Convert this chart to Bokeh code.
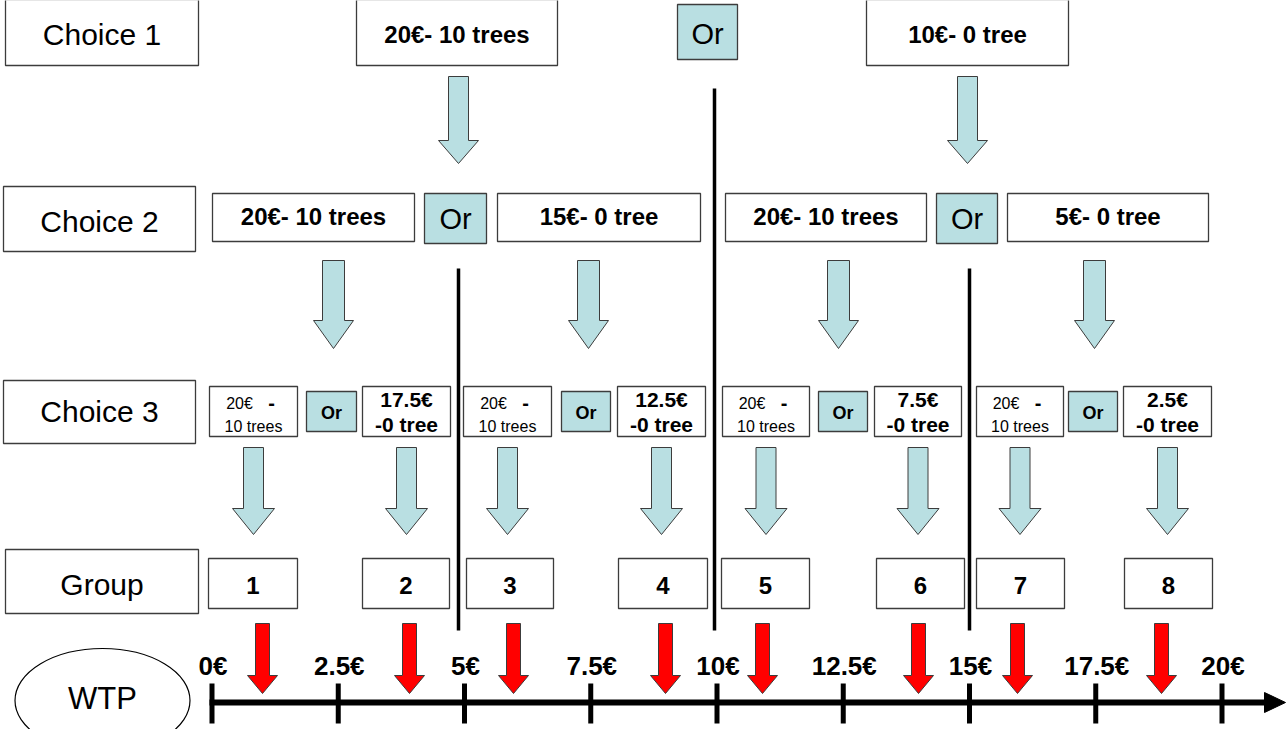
from bokeh.plotting import figure
from bokeh.models import Range1d
from bokeh.core.properties import value
from bokeh.embed import file_html
from bokeh.resources import INLINE

# ---------------- data (texts / values) ----------------
row_labels = ["Choice 1", "Choice 2", "Choice 3", "Group"]
choice1_options = ["20€- 10 trees", "10€- 0 tree"]
choice2_options = ["20€- 10 trees", "15€- 0 tree", "20€- 10 trees", "5€- 0 tree"]
choice3_a_price = ["20€", "20€", "20€", "20€"]
choice3_a_trees = ["10 trees", "10 trees", "10 trees", "10 trees"]
choice3_b_price = ["17.5€", "12.5€", "7.5€", "2.5€"]
choice3_b_trees = ["-0 tree", "-0 tree", "-0 tree", "-0 tree"]
or_label = "Or"
groups = ["1", "2", "3", "4", "5", "6", "7", "8"]
wtp_values = [0, 2.5, 5, 7.5, 10, 12.5, 15, 17.5, 20]
wtp_labels = ["0€", "2.5€", "5€", "7.5€", "10€", "12.5€", "15€", "17.5€", "20€"]
axis_name = "WTP"

# ---------------- layout (pixel positions of the diagram) ----------------
W, H = 1287, 729
FONT = value("Liberation Sans")
BLUE = "#B9DFE2"
EDGE = "#3c3c3c"

# (left, right, top, bottom, text centre y)
label_boxes = [(5, 198, -1, 65, 34), (3, 195, 186, 251, 220.5),
               (3, 195, 380, 443, 411), (5, 198, 549, 613, 583.5)]
c1_boxes = [(356, 557), (866, 1068)]
c1_y = (-1, 65, 33.5)
c1_or = (677, 737, 4, 59, 33.5)
c1_arrows = [458, 967]
c1_arrow_y = (76, 140, 163)

c2_boxes = [(212, 414), (497, 700), (725, 926), (1007, 1208)]
c2_y = (193, 241, 216)
c2_or = [(424, 486), (936, 997)]
c2_or_y = (193, 243, 218.5)
c2_arrows = [333, 588, 838, 1094]
c2_arrow_y = (260, 320, 348)

c3_a = [(209, 297), (463, 551), (722, 809), (976, 1063)]
c3_or = [(306, 356), (561, 610), (818, 867), (1068, 1117)]
c3_b = [(362, 450), (617, 705), (874, 961), (1123, 1211)]
c3_y = (386, 436)
c3_or_y = (391, 431)
c3_arrow_y = (447, 508, 534)

g_boxes = [(208, 297), (362, 449), (466, 553), (618, 707),
           (721, 809), (876, 964), (976, 1064), (1124, 1212)]
g_y = (558, 608, 585)
red_arrows = [262, 409, 513, 665, 762, 918, 1017, 1161]
red_arrow_y = (623, 675, 693)

dividers = [(458, 268), (714, 88), (969, 268)]
divider_bottom = 630

axis_y = 702
px_per_euro = 50.5
zero_px = 211.5

# ---------------- figure ----------------
wtp_start = -zero_px / px_per_euro
wtp_end = wtp_start + W / px_per_euro

p = figure(width=W, height=H, x_range=Range1d(0, W),
           y_range=Range1d(H, 0), output_backend="svg",
           toolbar_location=None, x_axis_location=None, y_axis_location=None,
           min_border=0)
p.extra_x_ranges = {"wtp": Range1d(wtp_start, wtp_end)}
p.grid.visible = False
p.outline_line_color = None
p.background_fill_color = "white"
p.border_fill_color = "white"


def boxes(lrtb, fill="white", lw=1.3):
    p.quad(left=[b[0] for b in lrtb], right=[b[1] for b in lrtb],
           top=[b[2] for b in lrtb], bottom=[b[3] for b in lrtb],
           fill_color=fill, line_color=EDGE, line_width=lw)


def texts(xs, ys, tx, size, bold=False, **kw):
    p.text(x=xs, y=ys, text=tx, text_font=FONT, text_font_size=f"{size}px",
           text_font_style="bold" if bold else "normal", text_align="center",
           text_baseline="middle", text_color="black", **kw)


def arrows(centers, ys, hs, hh, fill, lw=1.0):
    top, neck, tip = ys
    xs_all, ys_all = [], []
    for c in centers:
        xs_all.append([c - hs, c + hs, c + hs, c + hh, c, c - hh, c - hs])
        ys_all.append([top, top, neck, neck, tip, neck, neck])
    p.patches(xs_all, ys_all, fill_color=fill, line_color=EDGE, line_width=lw)


def mid(b):
    return (b[0] + b[1]) / 2

# dividers
p.segment(x0=[d[0] for d in dividers], x1=[d[0] for d in dividers],
          y0=[d[1] for d in dividers], y1=[divider_bottom] * len(dividers),
          line_color="black", line_width=3.5)

# row label boxes
boxes([(b[0], b[1], b[2], b[3]) for b in label_boxes])
texts([mid(b) for b in label_boxes], [b[4] for b in label_boxes], row_labels, 30)

# choice 1
boxes([(b[0], b[1], c1_y[0], c1_y[1]) for b in c1_boxes])
texts([mid(b) for b in c1_boxes], [c1_y[2]] * 2, choice1_options, 24, True)
boxes([c1_or[:4]], fill=BLUE)
texts([mid(c1_or)], [c1_or[4]], [or_label], 29)
arrows(c1_arrows, c1_arrow_y, 10, 20, BLUE)

# choice 2
boxes([(b[0], b[1], c2_y[0], c2_y[1]) for b in c2_boxes])
texts([mid(b) for b in c2_boxes], [c2_y[2]] * 4, choice2_options, 24, True)
boxes([(b[0], b[1], c2_or_y[0], c2_or_y[1]) for b in c2_or], fill=BLUE)
texts([mid(b) for b in c2_or], [c2_or_y[2]] * 2, [or_label] * 2, 29)
arrows(c2_arrows, c2_arrow_y, 11, 20, BLUE)

# choice 3
boxes([(b[0], b[1], c3_y[0], c3_y[1]) for b in c3_a + c3_b])
boxes([(b[0], b[1], c3_or_y[0], c3_or_y[1]) for b in c3_or], fill=BLUE)
texts([mid(b) - 14 for b in c3_a], [403] * 4, choice3_a_price, 16)
texts([mid(b) + 18 for b in c3_a], [402] * 4, ["-"] * 4, 20, True)
texts([mid(b) for b in c3_a], [426] * 4, choice3_a_trees, 16)
texts([mid(b) for b in c3_or], [412] * 4, [or_label] * 4, 18, True)
texts([mid(b) for b in c3_b], [399] * 4, choice3_b_price, 21, True)
texts([mid(b) for b in c3_b], [424] * 4, choice3_b_trees, 21, True)
arrows([mid(b) for b in c3_a + c3_b], c3_arrow_y, 10, 21, BLUE)

# groups
boxes([(b[0], b[1], g_y[0], g_y[1]) for b in g_boxes])
texts([mid(b) for b in g_boxes], [g_y[2]] * 8, groups, 24, True)
arrows(red_arrows, red_arrow_y, 7, 15, "#FF0000")

# WTP axis
p.ellipse(x=[102], y=[700], width=[175], height=[104], fill_color="white",
          line_color="black", line_width=1.2)
texts([102], [698], [axis_name], 31)
p.segment(x0=[209], x1=[1266], y0=[axis_y], y1=[axis_y],
          line_color="black", line_width=6)
p.patch(x=[1264, 1285, 1264], y=[axis_y - 10, axis_y, axis_y + 10],
        fill_color="black", line_color="black")
p.segment(x0=wtp_values, x1=wtp_values, y0=[683] * 9, y1=[723] * 9,
          line_color="black", line_width=5, x_range_name="wtp")
texts(wtp_values, [665] * 9, wtp_labels, 26, True, x_offset=1,
      x_range_name="wtp")

open("out.html", "w").write(file_html(p, INLINE))
